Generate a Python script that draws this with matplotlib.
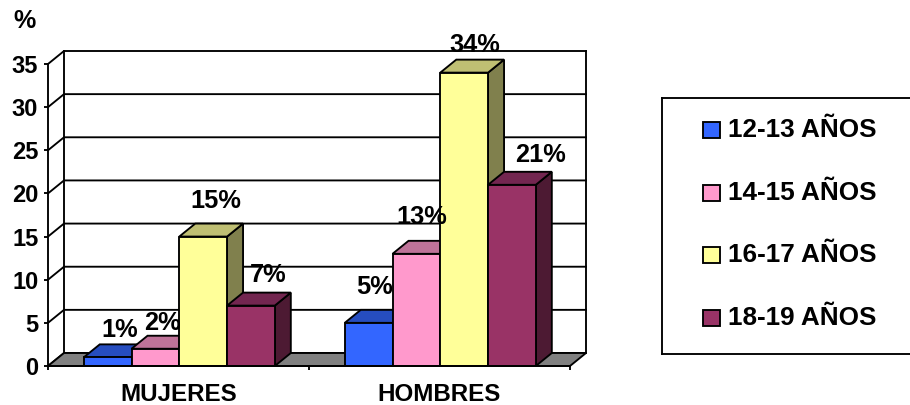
import matplotlib
matplotlib.use('Agg')
import matplotlib.pyplot as plt
from matplotlib.patches import Polygon, Rectangle

plt.rcParams['font.family'] = ['Liberation Sans', 'DejaVu Sans']
plt.rcParams['font.weight'] = 'bold'

categories = ['MUJERES', 'HOMBRES']
series_names = ['12-13 AÑOS', '14-15 AÑOS', '16-17 AÑOS', '18-19 AÑOS']
mujeres = [1, 2, 15, 7]
hombres = [5, 13, 34, 21]
y_ticks = [0, 5, 10, 15, 20, 25, 30, 35]

front_colors = ['#3366FF', '#FF99CC', '#FFFF99', '#993366']
top_colors = ['#264DBF', '#BF7399', '#BFBF73', '#732650']
side_colors = ['#1A3380', '#804D66', '#80804D', '#4D1A33']

# hand moved data labels in the original, offsets in pixels from bar top
label_dx = [[12, 7, 13, 17], [6, 5, 11, 29]]
label_dy = [[27, 26, 36, 31], [36, 37, 28, 30]]

W, H = 910, 405
LW = 1.35

fig = plt.figure(figsize=(W / 100, H / 100), dpi=100)
ax = fig.add_axes([48 / W, 39 / H, 522 / W, 302 / H])
ax.set_xlim(0, 2)
ax.set_ylim(0, 35)
ax.patch.set_visible(False)

# depth of the fake 3d box, in data units
dx = 2 * 16 / 522
dy = 35 * 13 / 302
bar_w = 0.183
bar_shift = 0.003


def poly(points, color, z):
    ax.add_patch(Polygon(points, closed=True, facecolor=color, edgecolor='black',
                         linewidth=LW, clip_on=False, zorder=z, joinstyle='miter'))


# floor and walls
poly([(0, 0), (2, 0), (2 + dx, dy), (dx, dy)], '#808080', 1)
for t in y_ticks:
    ax.plot([0, dx, 2 + dx], [t, t + dy, t + dy], color='black', lw=LW, clip_on=False, zorder=0.5,
            solid_joinstyle='miter')
ax.plot([dx, dx], [dy, 35 + dy], color='black', lw=LW, clip_on=False, zorder=0.5)
ax.plot([2 + dx, 2 + dx], [dy, 35 + dy], color='black', lw=LW, clip_on=False, zorder=0.5)

# bars
for c, values in enumerate([mujeres, hombres]):
    for i, v in enumerate(values):
        x0 = c + 0.5 + (i - 2) * bar_w + bar_shift
        x1 = x0 + bar_w
        z = 2 + c + i * 0.1
        poly([(x1, 0), (x1 + dx, dy), (x1 + dx, v + dy), (x1, v)], side_colors[i], z)
        poly([(x0, v), (x1, v), (x1 + dx, v + dy), (x0 + dx, v + dy)], top_colors[i], z)
        poly([(x0, 0), (x1, 0), (x1, v), (x0, v)], front_colors[i], z)
        ax.annotate(f'{v}%', (x0 + bar_w / 2, v), xytext=(label_dx[c][i], label_dy[c][i]),
                    textcoords='offset pixels', ha='center', va='center', fontsize=18.3,
                    fontweight='bold', zorder=10, annotation_clip=False)

# axes
for s in ['top', 'right']:
    ax.spines[s].set_visible(False)
for s in ['left', 'bottom']:
    ax.spines[s].set_linewidth(LW)
    ax.spines[s].set_zorder(6)
ax.set_yticks(y_ticks)
ax.set_yticklabels([str(t) for t in y_ticks], fontsize=17, fontweight='bold')
ax.tick_params(axis='y', length=3, width=LW, pad=4)
ax.set_xticks([0, 1, 2])
ax.set_xticklabels(['', '', ''])
ax.tick_params(axis='x', which='major', length=3, width=LW)
ax.set_xticks([0.5, 1.5], minor=True)
ax.set_xticklabels(categories, minor=True, fontsize=17.4, fontweight='bold')
ax.tick_params(axis='x', which='minor', length=0, pad=12)

fig.text(24 / W, 1 - 21 / H, '%', ha='center', va='center', fontsize=18, fontweight='bold')

# legend box runs off the right edge of the picture
leg = fig.add_axes([662 / W, 1 - 354 / H, 260 / W, 256 / H])
leg.set_xlim(662, 922)
leg.set_ylim(354, 98)
leg.set_xticks([])
leg.set_yticks([])
for s in leg.spines.values():
    s.set_linewidth(LW)
for i, name in enumerate(series_names):
    yc = 130 + i * 62.7
    leg.add_patch(Rectangle((703, yc - 8), 17, 16, facecolor=front_colors[i],
                            edgecolor='black', linewidth=LW))
    leg.text(728, yc, name, ha='left', va='center', fontsize=18.8, fontweight='bold')

fig.savefig('out.png', dpi=100)
